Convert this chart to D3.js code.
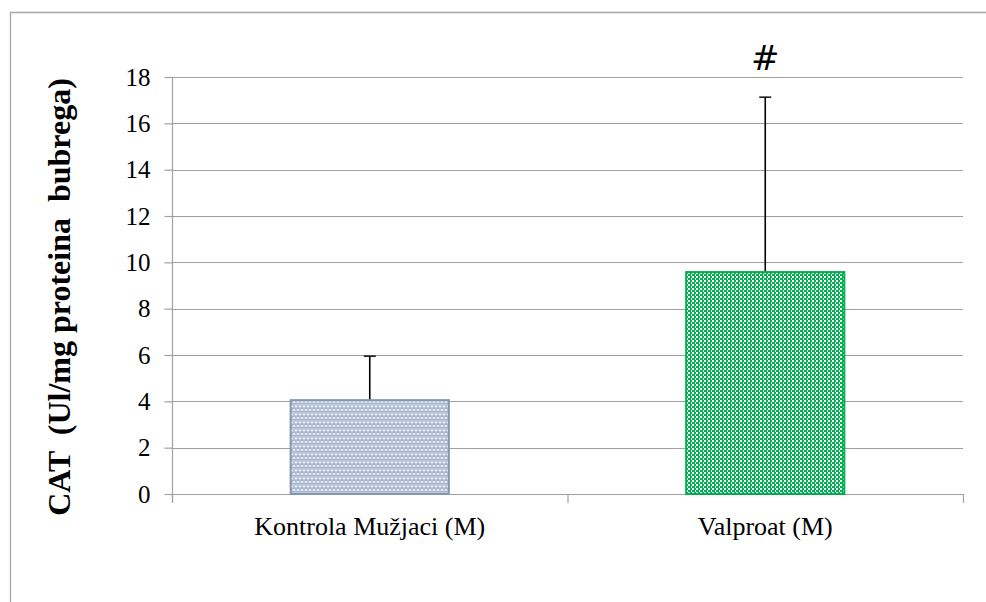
<!DOCTYPE html>
<html><head><meta charset="utf-8">
<script src="https://cdn.jsdelivr.net/npm/d3@7"></script>
<style>
html,body{margin:0;padding:0;background:#fff;}
svg{display:block;}
</style></head>
<body>
<svg id="chart" width="986" height="602"></svg>
<script>
const categories = ["Kontrola Mužjaci (M)", "Valproat (M)"];
const values = [4.05, 9.58];
const errors = [1.9, 7.55];
const markers = ["", "#"];
const yTicks = [0, 2, 4, 6, 8, 10, 12, 14, 16, 18];
const yTitle = "CAT  (Ul/mg proteina  bubrega)";

const svg = d3.select("#chart");
const W = 986, H = 602;
const m = {left: 172, right: 963, top: 77, bottom: 494};
const serif = "'Liberation Serif','Times New Roman',serif";

// frame
svg.append("path").attr("d", `M10.5,${H} L10.5,12.5 L${W},12.5`)
  .attr("fill", "none").attr("stroke", "#a6a6a6").attr("stroke-width", 1.3);

const defs = svg.append("defs");
// pattern 1: light blue-gray weave
const p1 = defs.append("pattern").attr("id", "p1").attr("patternUnits", "userSpaceOnUse")
  .attr("width", 8).attr("height", 8);
p1.append("rect").attr("width", 8).attr("height", 8).attr("fill", "#a9b8cf");
p1.append("ellipse").attr("cx", 2).attr("cy", 2).attr("rx", 1.6).attr("ry", 1.1).attr("fill", "#e8edf4");
p1.append("ellipse").attr("cx", 6).attr("cy", 2).attr("rx", 1.6).attr("ry", 1.1).attr("fill", "#e8edf4");
p1.append("rect").attr("x", 0).attr("y", 4.6).attr("width", 8).attr("height", 0.8).attr("fill", "#d3dbe7");
p1.append("ellipse").attr("cx", 4).attr("cy", 6.5).attr("rx", 1.4).attr("ry", 0.9).attr("fill", "#eef2f7");
p1.append("ellipse").attr("cx", 0).attr("cy", 6.5).attr("rx", 1.4).attr("ry", 0.9).attr("fill", "#eef2f7");
p1.append("ellipse").attr("cx", 8).attr("cy", 6.5).attr("rx", 1.4).attr("ry", 0.9).attr("fill", "#eef2f7");
// pattern 2: green with white squares
const p2 = defs.append("pattern").attr("id", "p2").attr("patternUnits", "userSpaceOnUse")
  .attr("width", 4).attr("height", 4);
p2.append("rect").attr("width", 4).attr("height", 4).attr("fill", "#00b050");
p2.append("rect").attr("x", 0).attr("y", 0).attr("width", 2).attr("height", 2).attr("fill", "#fff");
p2.append("rect").attr("x", 3).attr("y", 2).attr("width", 1).attr("height", 2).attr("fill", "#fff");
const fills = ["url(#p1)", "url(#p2)"];
const strokes = ["#8496b0", "#00b050"];

const x = d3.scaleBand().domain(categories).range([m.left, m.right]).paddingInner(0.6).paddingOuter(0.3);
const xOuter = d3.scaleBand().domain(categories).range([m.left, m.right]);
const y = d3.scaleLinear().domain([0, 18]).range([m.bottom, m.top]);

// gridlines
svg.append("g").selectAll("line").data(yTicks.filter(d => d > 0)).join("line")
  .attr("x1", m.left).attr("x2", m.right)
  .attr("y1", d => Math.round(y(d)) + 0.5).attr("y2", d => Math.round(y(d)) + 0.5)
  .attr("stroke", "#a0a0a0").attr("stroke-width", 1.2);

// y axis
const yAxis = d3.axisLeft(y).tickValues(yTicks).tickSize(8).tickPadding(14).tickFormat(d3.format("d"));
const gy = svg.append("g").attr("transform", `translate(${m.left + 0.5},0)`).call(yAxis);
gy.select(".domain").attr("stroke", "#a0a0a0").attr("stroke-width", 1.2).attr("d", `M0,${m.top} V${m.bottom + 8}`);
gy.selectAll(".tick line").attr("stroke", "#a0a0a0").attr("stroke-width", 1.2);
gy.selectAll(".tick text").attr("font-family", serif).attr("font-size", 25).attr("fill", "#000");

// x axis
svg.append("line").attr("x1", m.left).attr("x2", m.right)
  .attr("y1", m.bottom + 0.5).attr("y2", m.bottom + 0.5).attr("stroke", "#a0a0a0").attr("stroke-width", 1.2);
const xt = [m.left, ...categories.map(c => xOuter(c) + xOuter.bandwidth())];
svg.append("g").selectAll("line").data(xt).join("line")
  .attr("x1", d => d + 0.5).attr("x2", d => d + 0.5).attr("y1", m.bottom).attr("y2", m.bottom + 9)
  .attr("stroke", "#a0a0a0").attr("stroke-width", 1.2);
svg.append("g").selectAll("text").data(categories).join("text")
  .attr("x", d => x(d) + x.bandwidth() / 2).attr("y", 535)
  .attr("text-anchor", "middle").attr("font-family", serif).attr("font-size", 26)
  .text(d => d);

// error bars (drawn under bars)
const eg = svg.append("g");
categories.forEach((c, i) => {
  const cx = x(c) + x.bandwidth() / 2;
  eg.append("line").attr("x1", cx).attr("x2", cx).attr("y1", y(values[i])).attr("y2", y(values[i] + errors[i]))
    .attr("stroke", "#000").attr("stroke-width", 1.6);
  eg.append("line").attr("x1", cx - 6).attr("x2", cx + 6).attr("y1", y(values[i] + errors[i])).attr("y2", y(values[i] + errors[i]))
    .attr("stroke", "#000").attr("stroke-width", 1.4);
});

// bars
svg.append("g").selectAll("rect").data(categories).join("rect")
  .attr("x", d => x(d)).attr("width", x.bandwidth())
  .attr("y", (d, i) => y(values[i])).attr("height", (d, i) => y(0) - y(values[i]))
  .attr("fill", (d, i) => fills[i]).attr("stroke", (d, i) => strokes[i]).attr("stroke-width", 2);

// markers
svg.append("g").selectAll("text").data(categories).join("text")
  .attr("x", d => x(d) + x.bandwidth() / 2).attr("y", (d, i) => y(values[i] + errors[i]) - 27)
  .attr("text-anchor", "middle").attr("font-family", "'DejaVu Sans',sans-serif").attr("font-size", 34)
  .text((d, i) => markers[i]);

// y title
svg.append("text").attr("transform", `translate(70,297) rotate(-90)`)
  .attr("text-anchor", "middle").attr("font-family", serif).attr("font-weight", "bold")
  .attr("font-size", 32).style("white-space", "pre").text(yTitle);
</script>
</body></html>
